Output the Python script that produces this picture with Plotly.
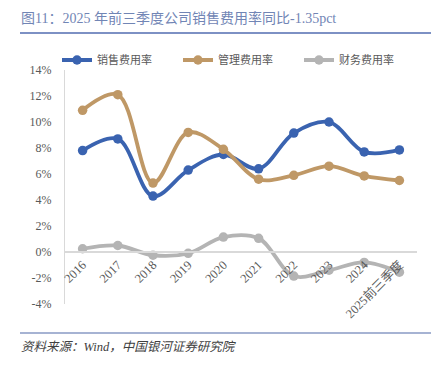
import plotly.graph_objects as go

categories = ["2016", "2017", "2018", "2019", "2020", "2021", "2022", "2023", "2024", "2025前三季度"]
sales_rate = [7.8, 8.7, 4.3, 6.3, 7.5, 6.4, 9.15, 10.0, 7.7, 7.85]
admin_rate = [10.9, 12.1, 5.3, 9.2, 7.9, 5.6, 5.9, 6.6, 5.85, 5.5]
finance_rate = [0.25, 0.5, -0.25, -0.1, 1.15, 1.05, -1.85, -1.4, -0.8, -1.55]
y_ticks = [-4, -2, 0, 2, 4, 6, 8, 10, 12, 14]
y_tick_labels = [f"{v}%" for v in y_ticks]

series = [
    ("销售费用率", sales_rate, "#3a63b0"),
    ("管理费用率", admin_rate, "#bf9866"),
    ("财务费用率", finance_rate, "#b4b4b4"),
]

FONT = "Liberation Serif, Noto Sans CJK SC, serif"

fig = go.Figure()
for name, vals, color in series:
    fig.add_trace(go.Scatter(
        x=categories, y=vals, name=name, mode="lines+markers",
        line=dict(color=color, width=3.8, shape="spline", smoothing=1.0),
        marker=dict(color=color, size=9.5),
    ))

OFF = 8  # page body margin offset
W, H = 440 - OFF, 371 - OFF
# plot area in reference (screen) pixels: x 65..417, y 70..304
PX0, PX1, PY0, PY1 = 65, 417, 70, 304
L, T = PX0 - OFF, PY0 - OFF
R = W - (PX1 - OFF)
B = H - (PY1 - OFF)
pw, ph = PX1 - PX0, PY1 - PY0

def px_x(x):
    return (x - PX0) / pw

def px_y(y):
    return (PY1 - y) / ph

fig.update_layout(
    width=W, height=H,
    margin=dict(l=L, r=R, t=T, b=B, autoexpand=False),
    paper_bgcolor="white", plot_bgcolor="white",
    font=dict(family=FONT, color="#595959", size=11),
    showlegend=True,
    legend=dict(
        orientation="h", x=px_x(57), xanchor="left", y=px_y(60), yanchor="middle",
        font=dict(family="Noto Sans CJK SC", size=11, color="#595959"),
        entrywidth=76, entrywidthmode="pixels",
        bgcolor="rgba(0,0,0,0)", itemclick=False,
    ),
    xaxis=dict(
        type="category", anchor="free", position=4 / 18,
        showline=True, linecolor="#d9d9d9", linewidth=1.5,
        showgrid=False, ticks="", tickangle=-45,
        tickfont=dict(family=FONT, size=12.5, color="#595959"),
        range=[-0.5, len(categories) - 0.5],
    ),
    yaxis=dict(
        range=[-4, 14], tickvals=y_ticks, ticktext=y_tick_labels,
        showgrid=False, zeroline=False,
        showline=True, linecolor="#d9d9d9", linewidth=1,
        tickfont=dict(family=FONT, size=12, color="#595959"),
        ticks="", ticklabelstandoff=10,
    ),
    shapes=[
        dict(type="line", xref="paper", yref="paper", x0=px_x(20), x1=px_x(431),
             y0=px_y(33), y1=px_y(33), line=dict(color="#7d91c4", width=2)),
        dict(type="line", xref="paper", yref="paper", x0=px_x(20), x1=px_x(431),
             y0=px_y(333), y1=px_y(333), line=dict(color="#a6b3d3", width=2)),
    ],
    annotations=[
        dict(text="图11：2025 年前三季度公司销售费用率同比-1.35pct", xref="paper", yref="paper",
             x=px_x(19), y=px_y(18), xanchor="left", yanchor="middle", showarrow=False,
             font=dict(family=FONT, size=14, color="#7185b5")),
        dict(text="<i>资料来源：Wind，中国银河证券研究院</i>", xref="paper", yref="paper",
             x=px_x(19), y=px_y(347), xanchor="left", yanchor="middle", showarrow=False,
             font=dict(family=FONT, size=12.5, color="#404040")),
    ],
)

fig.write_html("out.html")
